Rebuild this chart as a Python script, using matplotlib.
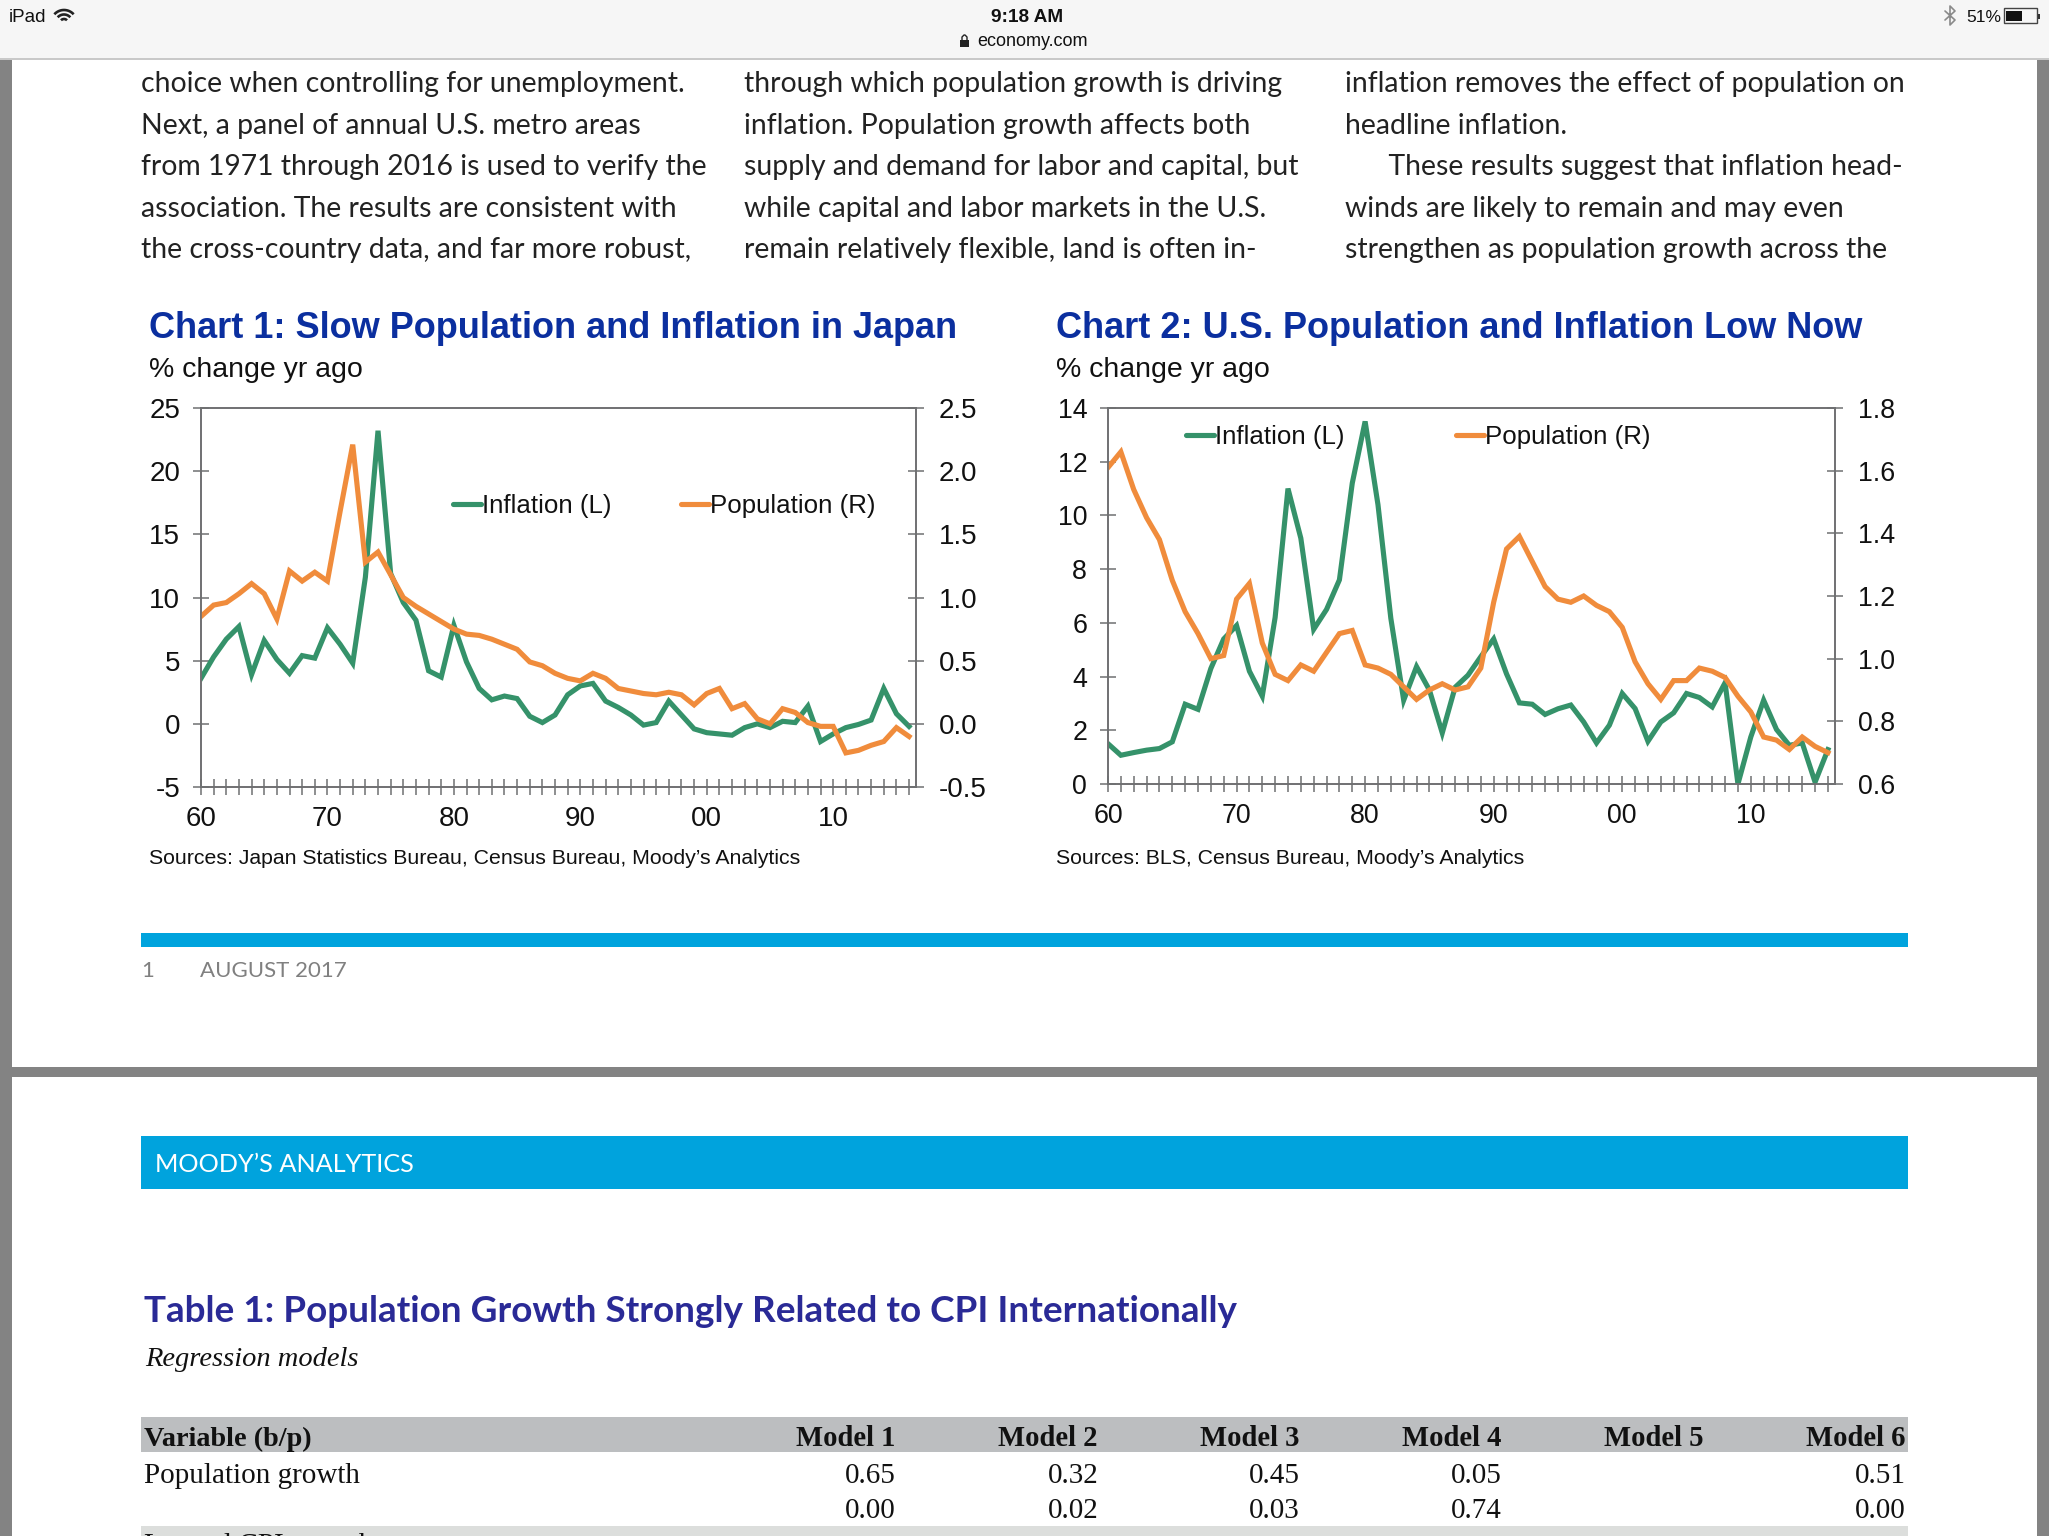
#!/usr/bin/env python3
"""Two inflation/population charts on a screenshot of a report page."""

import matplotlib
matplotlib.use("Agg")
import matplotlib.pyplot as plt
import numpy as np
from matplotlib.lines import Line2D
from matplotlib.patches import Rectangle

plt.rcParams["axes.unicode_minus"] = False

W, H = 2049, 1536

YEARS = np.arange(1960, 2017)
XTICK_LABELS = ["60", "70", "80", "90", "00", "10"]

JP_INFLATION = [3.6, 5.3, 6.7, 7.7, 3.9, 6.6, 5.1, 4.0, 5.4, 5.2,
                7.6, 6.3, 4.8, 11.6, 23.2, 11.9, 9.6, 8.2, 4.2, 3.7,
                7.8, 4.9, 2.8, 1.9, 2.2, 2.0, 0.6, 0.1, 0.7, 2.3,
                3.0, 3.2, 1.8, 1.3, 0.7, -0.1, 0.1, 1.8, 0.7, -0.4,
                -0.7, -0.8, -0.9, -0.3, 0.0, -0.3, 0.2, 0.1, 1.4, -1.4,
                -0.8, -0.3, -0.05, 0.3, 2.8, 0.8, -0.2]
JP_POPULATION = [0.85, 0.94, 0.96, 1.03, 1.11, 1.03, 0.83, 1.21, 1.13, 1.20,
                 1.13, 1.68, 2.21, 1.28, 1.36, 1.18, 1.00, 0.93, 0.87, 0.81,
                 0.75, 0.71, 0.70, 0.67, 0.63, 0.59, 0.49, 0.46, 0.40, 0.36,
                 0.34, 0.40, 0.36, 0.28, 0.26, 0.24, 0.23, 0.25, 0.23, 0.15,
                 0.24, 0.28, 0.12, 0.16, 0.04, 0.00, 0.12, 0.09, 0.01, -0.02,
                 -0.02, -0.23, -0.21, -0.17, -0.14, -0.03, -0.10]
US_INFLATION = [1.5, 1.07, 1.17, 1.26, 1.32, 1.57, 2.97, 2.78, 4.3, 5.4,
                5.9, 4.2, 3.27, 6.2, 11.0, 9.15, 5.76, 6.5, 7.6, 11.2,
                13.5, 10.4, 6.17, 3.12, 4.37, 3.5, 1.9, 3.6, 4.05, 4.74,
                5.4, 4.1, 3.02, 2.97, 2.59, 2.8, 2.94, 2.31, 1.53, 2.19,
                3.37, 2.81, 1.59, 2.31, 2.65, 3.37, 3.22, 2.87, 3.77, 0.0,
                1.75, 3.12, 2.03, 1.44, 1.53, 0.07, 1.28]
US_POPULATION = [1.61, 1.66, 1.54, 1.45, 1.38, 1.25, 1.15, 1.08, 1.00, 1.01,
                 1.19, 1.24, 1.05, 0.95, 0.93, 0.98, 0.96, 1.02, 1.08, 1.09,
                 0.98, 0.97, 0.95, 0.91, 0.87, 0.90, 0.92, 0.90, 0.91, 0.97,
                 1.18, 1.35, 1.39, 1.31, 1.23, 1.19, 1.18, 1.20, 1.17, 1.15,
                 1.10, 0.99, 0.92, 0.87, 0.93, 0.93, 0.97, 0.96, 0.94, 0.88,
                 0.83, 0.75, 0.74, 0.71, 0.75, 0.72, 0.70]

JP_LEFT_TICKS = [-5, 0, 5, 10, 15, 20, 25]
JP_RIGHT_TICKS = [-0.5, 0.0, 0.5, 1.0, 1.5, 2.0, 2.5]
US_LEFT_TICKS = [0, 2, 4, 6, 8, 10, 12, 14]
US_RIGHT_TICKS = [0.6, 0.8, 1.0, 1.2, 1.4, 1.6, 1.8]

BODY_COLUMNS = [
    (141, ["choice when controlling for unemployment.",
           "Next, a panel of annual U.S. metro areas",
           "from 1971 through 2016 is used to verify the",
           "association. The results are consistent with",
           "the cross-country data, and far more robust,"]),
    (744, ["through which population growth is driving",
           "inflation. Population growth affects both",
           "supply and demand for labor and capital, but",
           "while capital and labor markets in the U.S.",
           "remain relatively flexible, land is often in-"]),
    (1345, ["inflation removes the effect of population on",
            "headline inflation.",
            "      These results suggest that inflation head-",
            "winds are likely to remain and may even",
            "strengthen as population growth across the"]),
]
BODY_ROWS = [84, 126, 167, 209, 250]

MODEL_NAMES = ["Model 1", "Model 2", "Model 3", "Model 4", "Model 5", "Model 6"]
MODEL_RIGHT = [896, 1099, 1300, 1502, 1704, 1906]
ROW_COEF = ["0.65", "0.32", "0.45", "0.05", "", "0.51"]
ROW_PVAL = ["0.00", "0.02", "0.03", "0.74", "", "0.00"]

GREEN = "#35926a"
ORANGE = "#f08c3c"
AXIS_GREY = "#6f7072"
TITLE_BLUE = "#0b2f9f"
BAR_BLUE = "#00a3dd"
SANS = "Liberation Sans"
BODY = "Lato"
SERIF = "Liberation Serif"

fig = plt.figure(figsize=(W / 100, H / 100), dpi=100, facecolor="white")


def px_text(x, y, s, **kw):
    """Text at pixel position, y counted from the top of the picture."""
    kw.setdefault("va", "center")
    kw.setdefault("family", SANS)
    kw.setdefault("color", "#111111")
    return fig.text(x / W, 1 - y / H, s, **kw)


def px_rect(x0, y0, x1, y1, color, zorder=0):
    fig.add_artist(Rectangle((x0 / W, 1 - y1 / H), (x1 - x0) / W, (y1 - y0) / H,
                             transform=fig.transFigure, fc=color, ec="none",
                             zorder=zorder))


def px_poly(xs, ys, color, lw, cap="round"):
    xs = np.asarray(xs, dtype=float)
    ys = np.asarray(ys, dtype=float)
    fig.add_artist(Line2D(xs / W, 1 - ys / H, transform=fig.transFigure,
                          color=color, lw=lw, solid_capstyle=cap))


def px_arc(cx, cy, r, color, lw):
    ang = np.radians(np.linspace(42, 138, 20))
    px_poly(cx + r * np.cos(ang), cy - r * np.sin(ang), color, lw, cap="butt")


def draw_chart(box, inflation, population, lticks, rticks, tick_size):
    left, top, right, bottom = box
    ax = fig.add_axes([left / W, 1 - bottom / H, (right - left) / W, (bottom - top) / H])
    ax.patch.set_alpha(0)
    ax2 = ax.twinx()
    ax2.patch.set_alpha(0)
    ax.set_zorder(1)
    ax2.set_zorder(1.1)
    ax.plot(YEARS, inflation, color=GREEN, lw=3.7, solid_joinstyle="miter")
    ax2.plot(YEARS, population, color=ORANGE, lw=3.7, solid_joinstyle="miter")
    ax.set_xlim(1960, 2016.55)
    ax.set_ylim(lticks[0], lticks[-1])
    ax2.set_ylim(rticks[0], rticks[-1])
    ax.set_yticks(lticks)
    ax2.set_yticks(rticks)
    ax2.set_yticklabels(["%.1f" % v for v in rticks])
    ax.set_xticks(YEARS)
    ax.set_xticklabels([XTICK_LABELS[(y - 1960) // 10] if y % 10 == 0 else "" for y in YEARS])
    for a in (ax, ax2):
        a.tick_params(axis="both", which="major", direction="inout", length=11,
                      width=1.1, color=AXIS_GREY, labelsize=tick_size, labelcolor="#111111")
        for lbl in a.get_xticklabels() + a.get_yticklabels():
            lbl.set_family(SANS)
        for sp in a.spines.values():
            sp.set_color(AXIS_GREY)
            sp.set_linewidth(1.2)
    ax.tick_params(axis="y", pad=9.5)
    ax2.tick_params(axis="y", pad=11)
    ax.tick_params(axis="x", pad=8.5)
    return ax


# page furniture
px_rect(0, 0, W, H, "#838383", 0)
px_rect(12, 58, 2037, 1067, "white", 0.1)
px_rect(12, 1077, 2037, H, "white", 0.1)
px_rect(0, 0, W, 58, "#f6f6f6", 0.2)
px_rect(0, 58, W, 60, "#c9c9c9", 0.2)
px_rect(141, 933, 1908, 947, BAR_BLUE, 0.3)
px_rect(141, 1136, 1908, 1189, BAR_BLUE, 0.3)
px_rect(141, 1417, 1908, 1452, "#bcbec0", 0.3)
px_rect(141, 1526, 1908, H, "#dcdedc", 0.3)

# status bar
px_text(9, 18, "iPad", fontsize=13.5)
px_text(1027, 18, "9:18 AM", fontsize=13.7, ha="center", fontweight="bold")
px_text(1032, 42, "economy.com", fontsize=13, ha="center")
px_text(1966, 18, "51%", fontsize=12.5)
# lock
px_rect(960, 40, 969, 47, "#222222", 1)
px_poly([962, 962, 964, 965, 967, 967], [40, 37, 35, 35, 37, 40], "#222222", 1.0)
# wifi
for radius in [13, 8.5, 4]:
    px_arc(64, 23, radius, "#222222", 1.9)
# bluetooth
px_poly([1945, 1955, 1950, 1950, 1955, 1945], [11, 20, 25, 6, 11, 20], "#8a8a8a", 1.2)
# battery
px_rect(2006, 11, 2022, 21, "#111111", 1)
fig.add_artist(Rectangle((2004 / W, 1 - 23 / H), 33 / W, 15 / H, transform=fig.transFigure,
                         fc="none", ec="#444444", lw=1.0, zorder=1))
px_rect(2038, 14, 2040, 19, "#333333", 1)

# body text
for x0, lines in BODY_COLUMNS:
    for y0, line in zip(BODY_ROWS, lines):
        px_text(x0, y0, line, fontsize=20.4, family=BODY, color="#222222")

# chart headers
px_text(149, 328, "Chart 1: Slow Population and Inflation in Japan", fontsize=26,
        fontweight="bold", color=TITLE_BLUE)
px_text(1056, 328, "Chart 2: U.S. Population and Inflation Low Now", fontsize=26,
        fontweight="bold", color=TITLE_BLUE)
px_text(149, 370, "% change yr ago", fontsize=20.5)
px_text(1056, 370, "% change yr ago", fontsize=20.5)

draw_chart((201, 408, 916, 787), JP_INFLATION, JP_POPULATION,
           JP_LEFT_TICKS, JP_RIGHT_TICKS, 20)
draw_chart((1108, 408, 1835, 784), US_INFLATION, US_POPULATION,
           US_LEFT_TICKS, US_RIGHT_TICKS, 19.3)

# legend keys, placed by hand like the original
for x0, y0, label, color in [(453, 504, "Inflation (L)", GREEN),
                             (681, 504, "Population (R)", ORANGE),
                             (1186, 435, "Inflation (L)", GREEN),
                             (1456, 435, "Population (R)", ORANGE)]:
    px_poly([x0, x0 + 28], [y0, y0], color, 3.7)
    px_text(x0 + 29, y0 + 2, label, fontsize=18.6)

px_text(149, 859, "Sources: Japan Statistics Bureau, Census Bureau, Moody\u2019s Analytics", fontsize=15.3)
px_text(1056, 859, "Sources: BLS, Census Bureau, Moody\u2019s Analytics", fontsize=15.3)

# footer and next page
px_text(141, 971, "1", fontsize=16, family=BODY, color="#808080")
px_text(200, 971, "AUGUST 2017", fontsize=16, family=BODY, color="#808080")
px_text(155, 1164, "MOODY\u2019S ANALYTICS", fontsize=18.2, family=BODY, color="white")

px_text(144, 1311, "Table 1: Population Growth Strongly Related to CPI Internationally",
        fontsize=26.6, family=BODY, color="#2a2a96", fontweight="bold")
px_text(145, 1360, "Regression models", fontsize=20.5, family=SERIF, style="italic")

px_text(144, 1439, "Variable (b/p)", fontsize=20.3, family=SERIF, fontweight="bold")
px_text(144, 1476, "Population growth", fontsize=21, family=SERIF)
for x0, name, coef, pval in zip(MODEL_RIGHT, MODEL_NAMES, ROW_COEF, ROW_PVAL):
    px_text(x0 - 1, 1439, name, fontsize=20.6, family=SERIF, fontweight="bold", ha="right")
    px_text(x0, 1476, coef, fontsize=21, family=SERIF, ha="right")
    px_text(x0, 1511, pval, fontsize=21, family=SERIF, ha="right")
px_text(144, 1546, "Lagged CPI growth", fontsize=21, family=SERIF)

fig.savefig("out.png", dpi=100)
